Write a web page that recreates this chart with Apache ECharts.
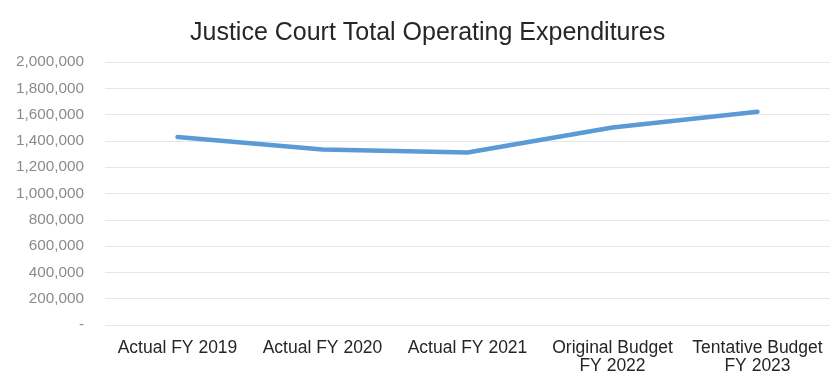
<!DOCTYPE html>
<html>
<head>
<meta charset="utf-8">
<script src="https://cdn.jsdelivr.net/npm/echarts@6/dist/echarts.min.js"></script>
<style>
  html, body { margin: 0; padding: 0; background: #ffffff; }
  #chart { width: 834px; height: 376px; }
</style>
</head>
<body>
<div id="chart"></div>
<script>
// Fiscal-year categories and total operating expenditures
const categories = ['Actual FY 2019', 'Actual FY 2020', 'Actual FY 2021', 'Original Budget\nFY 2022', 'Tentative Budget\nFY 2023'];
const expenditures = [1430000, 1335000, 1312000, 1502000, 1622000];
const yTicks = { min: 0, max: 2000000, interval: 200000 };

const chart = echarts.init(document.getElementById('chart'));
chart.setOption({
  backgroundColor: '#ffffff',
  animation: false,
  title: {
    text: 'Justice Court Total Operating Expenditures',
    left: 185,
    top: 16,
    textStyle: { fontFamily: 'Liberation Sans, Arial, sans-serif', fontSize: 25, fontWeight: 'normal', color: '#262626' }
  },
  grid: { left: 105, right: 4, top: 62, bottom: 51, containLabel: false },
  xAxis: {
    type: 'category',
    data: categories,
    boundaryGap: true,
    axisLine: { show: false },
    axisTick: { show: false },
    axisLabel: {
      margin: 14,
      fontFamily: 'Liberation Sans, Arial, sans-serif',
      fontSize: 17.5,
      lineHeight: 18,
      color: '#262626',
      interval: 0
    }
  },
  yAxis: {
    type: 'value',
    min: yTicks.min,
    max: yTicks.max,
    interval: yTicks.interval,
    axisLine: { show: false },
    axisTick: { show: false },
    splitLine: { lineStyle: { color: '#e6e6e6', width: 1 } },
    axisLabel: {
      margin: 21,
      fontFamily: 'Liberation Sans, Arial, sans-serif',
      fontSize: 15.3,
      color: '#8a8a8a',
      formatter: v => v === 0 ? '-' : v.toLocaleString('en-US')
    }
  },
  series: [{
    type: 'line',
    data: expenditures,
    symbol: 'none',
    smooth: false,
    lineStyle: { color: '#5b9bd5', width: 4.5, cap: 'round', join: 'round' }
  }]
});
</script>
</body>
</html>
